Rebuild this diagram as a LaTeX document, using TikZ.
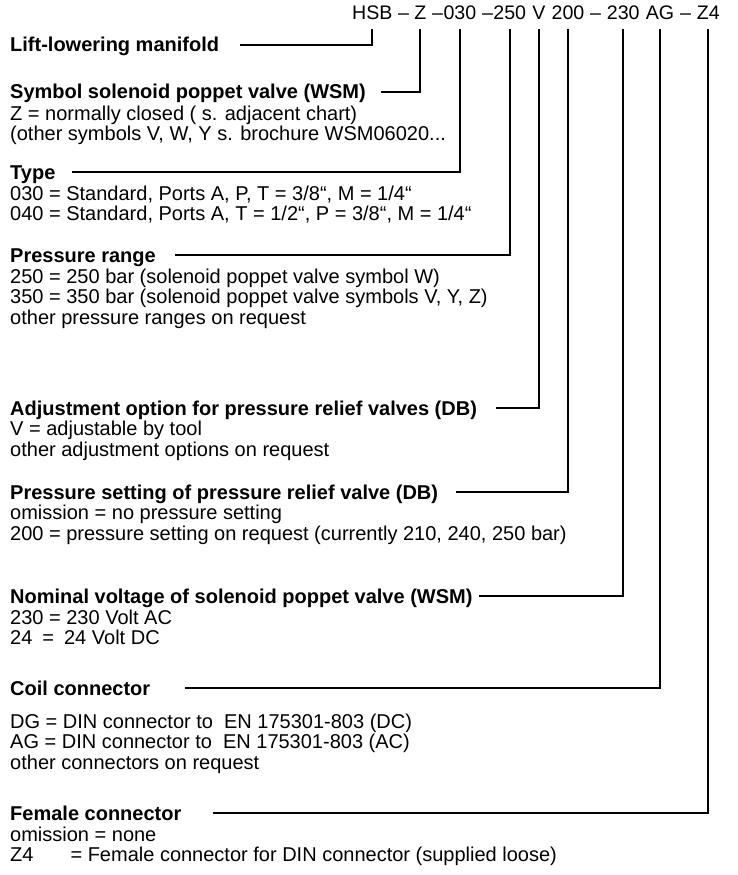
\documentclass[tikz,border=0pt]{standalone}
\usepackage{fontspec}
\setmainfont{Liberation Sans}
\begin{document}
\begin{tikzpicture}[x=1pt,y=-1pt]
\tikzset{
  txt/.style={anchor=base west, inner sep=0pt, font=\fontsize{20}{22}\selectfont},
  hd/.style={anchor=base west, inner sep=0pt, font=\fontsize{20}{22}\selectfont\bfseries},
  code/.style={anchor=base west, inner sep=0pt, font=\fontsize{19.6}{22}\selectfont},
  conn/.style={line width=1.8pt, line join=miter}
}
\useasboundingbox (0,0) rectangle (737,875);
% code line
\node[code] (kHSB) at (352,20) {HSB};
\node[code] (k1) at (kHSB.base east) {\kern.26em–\kern.26em};
\node[code] (kZ) at (k1.base east) {Z};
\node[code] (k2) at (kZ.base east) {\kern.278em–};
\node[code] (k030) at (k2.base east) {030};
\node[code] (k3) at (k030.base east) {\kern.278em–};
\node[code] (k250) at (k3.base east) {250};
\node[code] (k4) at (k250.base east) {\kern.278em};
\node[code] (kV) at (k4.base east) {V};
\node[code] (k5) at (kV.base east) {\kern.278em};
\node[code] (k200) at (k5.base east) {200};
\node[code] (k6) at (k200.base east) {\kern.278em–\kern.278em};
\node[code] (k230) at (k6.base east) {230};
\node[code] (k7) at (k230.base east) {\kern.278em};
\node[code] (kAG) at (k7.base east) {AG};
\node[code] (k8) at (kAG.base east) {\kern.278em–\kern.278em};
\node[code] (kZ4) at (k8.base east) {Z4};

% headings and texts
\node[hd] (hLift) at (10,52) {Lift-lowering manifold};

\node[hd] (hSym) at (10,99) {Symbol solenoid poppet valve (WSM)};
\node[txt] (tSym1) at (10,120) {Z = normally closed ( s. adjacent chart)};
\node[txt] (tSym2) at (10,140.5) {(other symbols V, W, Y s. brochure WSM06020...};

\node[hd] (hType) at (10,179) {Type};
\node[txt] (tType1) at (10,200) {030 = Standard, Ports A, P, T = 3/8“, M = 1/4“};
\node[txt] (tType2) at (10,220.5) {040 = Standard, Ports A, T = 1/2“, P = 3/8“, M = 1/4“};

\node[hd] (hPR) at (10,262) {Pressure range};
\node[txt] (tPR1) at (10,283) {250 = 250 bar (solenoid poppet valve symbol W)};
\node[txt] (tPR2) at (10,303.5) {350 = 350 bar (solenoid poppet valve symbols V, Y, Z)};
\node[txt] (tPR3) at (10,324) {other pressure ranges on request};

\node[hd] (hAdj) at (10,415) {Adjustment option for pressure relief valves (DB)};
\node[txt] (tAdj1) at (10,435.5) {V = adjustable by tool};
\node[txt] (tAdj2) at (10,456) {other adjustment options on request};

\node[hd] (hPS) at (10,499) {Pressure setting of pressure relief valve (DB)};
\node[txt] (tPS1) at (10,519.5) {omission = no pressure setting};
\node[txt] (tPS2) at (10,540) {200 = pressure setting on request (currently 210, 240, 250 bar)};

\node[hd] (hNom) at (10,603) {Nominal voltage of solenoid poppet valve (WSM)};
\node[txt] (tNom1) at (10,624) {230 = 230 Volt AC};
\node[txt] (tNom2) at (10,644.5) {24\hspace{10pt}=\hspace{10pt}24 Volt DC};

\node[hd] (hCoil) at (10,695) {Coil connector};
\node[txt] (tCoil1) at (10,728) {DG = DIN connector to\ \ EN 175301-803 (DC)};
\node[txt] (tCoil2) at (10,748.5) {AG = DIN connector to\ \ EN 175301-803 (AC)};
\node[txt] (tCoil3) at (10,769) {other connectors on request};

\node[hd] (hFem) at (10,820) {Female connector};
\node[txt] (tFem1) at (10,841) {omission = none};
\node[txt] (tFem2) at (10,861.5) {Z4\hspace{37pt}= Female connector for DIN connector (supplied loose)};

% connector start points
\coordinate (sLift) at (240,45);
\coordinate (sSym) at (381,92);
\coordinate (sType) at (72,172);
\coordinate (sPR) at (175,255);
\coordinate (sAdj) at (496,408);
\coordinate (sPS) at (456,492);
\coordinate (sNom) at (479,596);
\coordinate (sCoil) at (185,688);
\coordinate (sFem) at (213,813);

\draw[conn] (sLift) -| ([yshift=-9pt]kHSB.south);
\draw[conn] (sSym) -| ([yshift=-9pt]kZ.south);
\draw[conn] (sType) -| ([yshift=-9pt]k030.south);
\draw[conn] (sPR) -| ([yshift=-9pt]k250.south);
\draw[conn] (sAdj) -| ([yshift=-9pt]kV.south);
\draw[conn] (sPS) -| ([yshift=-9pt]k200.south);
\draw[conn] (sNom) -| ([yshift=-9pt]k230.south);
\draw[conn] (sCoil) -| ([yshift=-9pt]kAG.south);
\draw[conn] (sFem) -| ([yshift=-9pt]kZ4.south);
\end{tikzpicture}
\end{document}
